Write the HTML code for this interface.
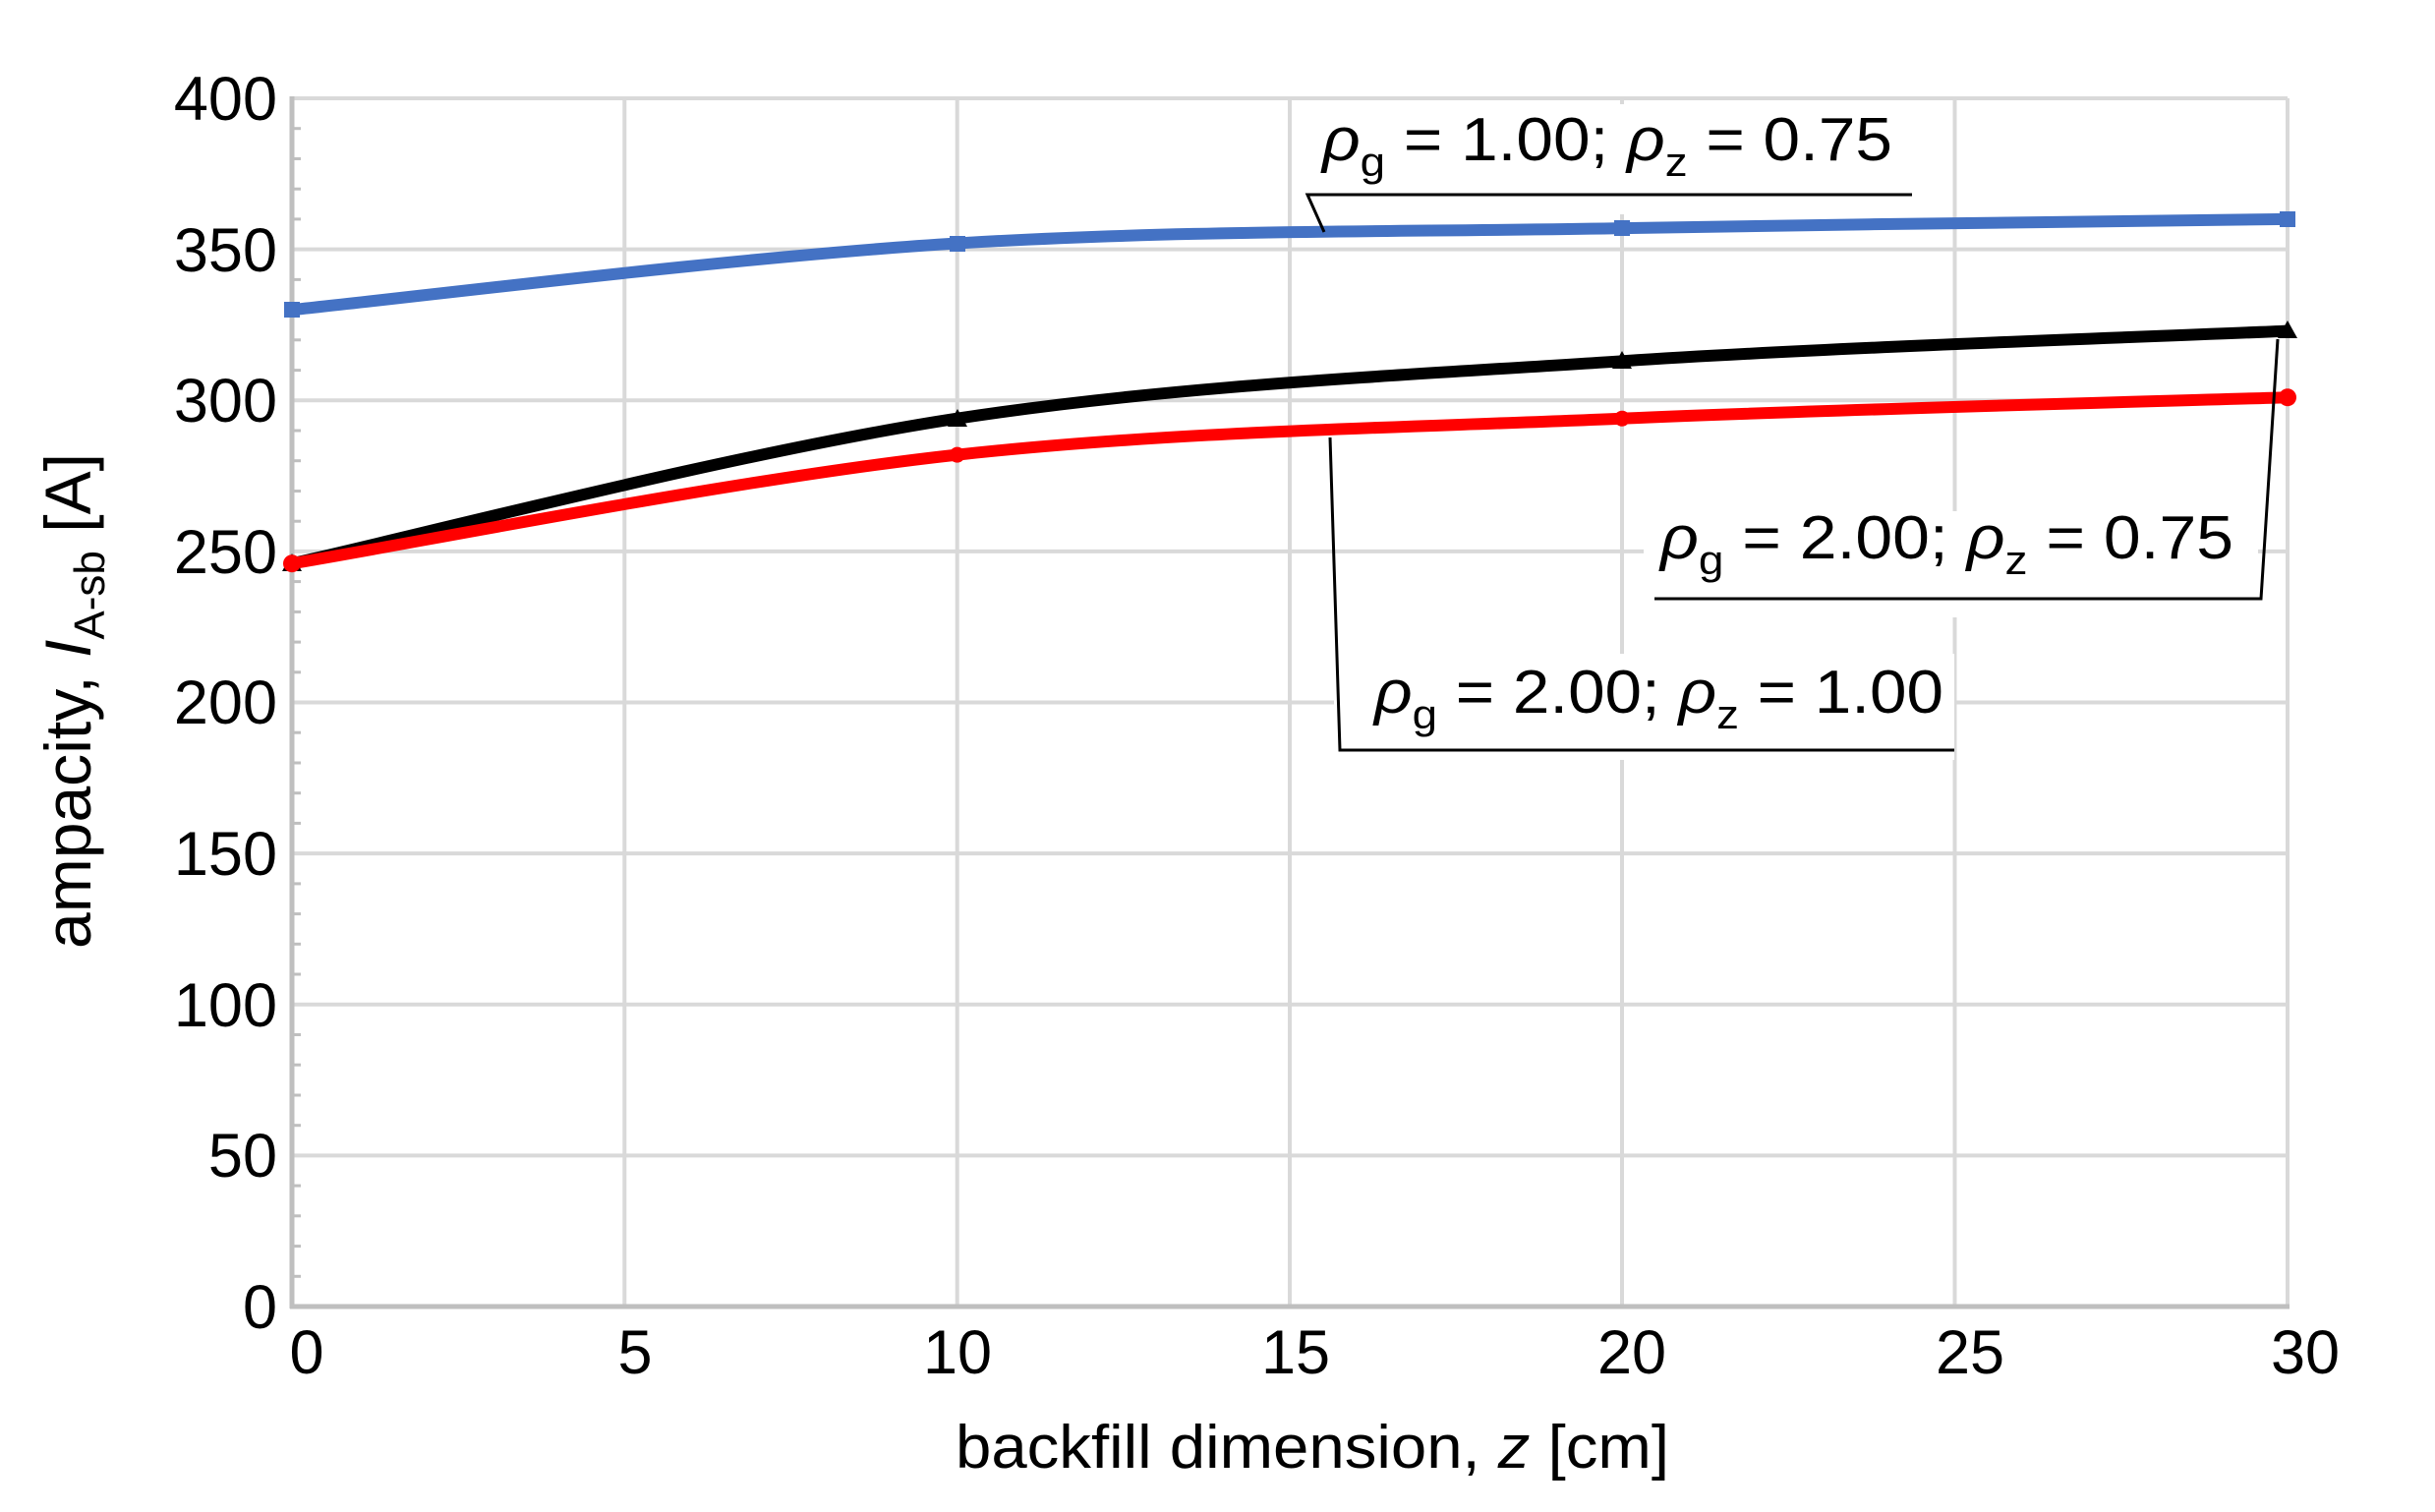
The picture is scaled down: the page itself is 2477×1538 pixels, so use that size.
<!DOCTYPE html>
<html><head><meta charset="utf-8"><style>html,body{margin:0;padding:0;background:#fff}svg{display:block}</style></head>
<body>
<svg width="2477" height="1538" viewBox="0 0 2477 1538" xmlns="http://www.w3.org/2000/svg" font-family="Liberation Sans, Arial, sans-serif">
<rect width="2477" height="1538" fill="#fff"/>
<g stroke="#d9d9d9" stroke-width="4">
<line x1="297" y1="100" x2="2327" y2="100"/><line x1="297" y1="253.6" x2="2327" y2="253.6"/><line x1="297" y1="407.3" x2="2327" y2="407.3"/><line x1="297" y1="560.9" x2="2327" y2="560.9"/><line x1="297" y1="714.5" x2="2327" y2="714.5"/><line x1="297" y1="868.1" x2="2327" y2="868.1"/><line x1="297" y1="1021.8" x2="2327" y2="1021.8"/><line x1="297" y1="1175.4" x2="2327" y2="1175.4"/>
<line x1="635.3" y1="100" x2="635.3" y2="1329"/><line x1="973.7" y1="100" x2="973.7" y2="1329"/><line x1="1312" y1="100" x2="1312" y2="1329"/><line x1="1650" y1="100" x2="1650" y2="1329"/><line x1="1988.5" y1="100" x2="1988.5" y2="1329"/><line x1="2327" y1="100" x2="2327" y2="1329"/>
</g>
<g stroke="#bfbfbf" stroke-width="5">
<line x1="297" y1="98" x2="297" y2="1331"/><line x1="295" y1="1329" x2="2329" y2="1329"/>
</g>
<g stroke="#bfbfbf" stroke-width="3">
<line x1="297" x2="306" y1="130.7" y2="130.7"/><line x1="297" x2="306" y1="161.5" y2="161.5"/><line x1="297" x2="306" y1="192.2" y2="192.2"/><line x1="297" x2="306" y1="222.9" y2="222.9"/>
<line x1="297" x2="306" y1="284.4" y2="284.4"/><line x1="297" x2="306" y1="315.1" y2="315.1"/><line x1="297" x2="306" y1="345.8" y2="345.8"/><line x1="297" x2="306" y1="376.6" y2="376.6"/>
<line x1="297" x2="306" y1="438" y2="438"/><line x1="297" x2="306" y1="468.7" y2="468.7"/><line x1="297" x2="306" y1="499.5" y2="499.5"/><line x1="297" x2="306" y1="530.2" y2="530.2"/>
<line x1="297" x2="306" y1="591.6" y2="591.6"/><line x1="297" x2="306" y1="622.4" y2="622.4"/><line x1="297" x2="306" y1="653.1" y2="653.1"/><line x1="297" x2="306" y1="683.8" y2="683.8"/>
<line x1="297" x2="306" y1="745.2" y2="745.2"/><line x1="297" x2="306" y1="776" y2="776"/><line x1="297" x2="306" y1="806.7" y2="806.7"/><line x1="297" x2="306" y1="837.4" y2="837.4"/>
<line x1="297" x2="306" y1="898.9" y2="898.9"/><line x1="297" x2="306" y1="929.6" y2="929.6"/><line x1="297" x2="306" y1="960.3" y2="960.3"/><line x1="297" x2="306" y1="991" y2="991"/>
<line x1="297" x2="306" y1="1052.5" y2="1052.5"/><line x1="297" x2="306" y1="1083.2" y2="1083.2"/><line x1="297" x2="306" y1="1114" y2="1114"/><line x1="297" x2="306" y1="1144.7" y2="1144.7"/>
<line x1="297" x2="306" y1="1206.1" y2="1206.1"/><line x1="297" x2="306" y1="1236.8" y2="1236.8"/><line x1="297" x2="306" y1="1267.6" y2="1267.6"/><line x1="297" x2="306" y1="1298.3" y2="1298.3"/>
</g>
<rect x="1330" y="106" width="615" height="112" fill="#fff"/>
<rect x="1672" y="520" width="625" height="108" fill="#fff"/>
<rect x="1357" y="665" width="631" height="108" fill="#fff"/>
<g fill="none" stroke-width="12" stroke-linejoin="round">
<path stroke="#4472c4" d="M297,315.1 C409.8,303.8 748.2,261.3 973.7,247.5 C1199.2,233.7 1424.5,236.2 1650,232.1 C1875.5,228 2214.2,224.4 2327,222.9"/>
<path stroke="#000" d="M297,573.2 C409.8,548.6 748.2,460 973.7,425.7 C1199.2,391.4 1424.5,382.2 1650,367.3 C1875.5,352.5 2214.2,341.7 2327,336.6"/>
<path stroke="#ff0000" d="M297,573.2 C409.8,554.8 748.2,487.2 973.7,462.6 C1199.2,438 1424.5,435.4 1650,425.7 C1875.5,416 2214.2,407.8 2327,404.2"/>
</g>
<g fill="#4472c4"><rect x="289" y="307" width="16" height="16"/><rect x="966" y="240" width="16" height="16"/><rect x="1642" y="224" width="16" height="16"/><rect x="2319" y="215" width="16" height="16"/></g>
<g fill="#000"><polygon points="297,563 307,581 287,581"/><polygon points="974,416 984,434 964,434"/><polygon points="1650,357 1660,375 1640,375"/><polygon points="2327,326 2337,344 2317,344"/></g>
<g fill="#ff0000"><circle cx="297" cy="573.2" r="9"/><circle cx="973.7" cy="462.6" r="8"/><circle cx="1650" cy="425.7" r="8"/><circle cx="2327" cy="404.2" r="9"/></g>
<g stroke="#000" stroke-width="3" fill="none">
<polyline points="1347,236 1330,198 1945,198"/>
<polyline points="2317,345 2300,609 1683,609"/>
<polyline points="1353,445 1363,763 1988,763"/>
</g>
<g font-size="62" fill="#000">
<text x="1345" y="163" textLength="580" lengthAdjust="spacingAndGlyphs"><tspan font-style="italic">ρ</tspan><tspan font-size="42" dy="16">g</tspan><tspan dy="-16"> = 1.00;  </tspan><tspan font-style="italic">ρ</tspan><tspan font-size="42" dy="16">z</tspan><tspan dy="-16"> = 0.75</tspan></text>
<text x="1689" y="568" textLength="583" lengthAdjust="spacingAndGlyphs"><tspan font-style="italic">ρ</tspan><tspan font-size="42" dy="16">g</tspan><tspan dy="-16"> = 2.00;  </tspan><tspan font-style="italic">ρ</tspan><tspan font-size="42" dy="16">z</tspan><tspan dy="-16"> = 0.75</tspan></text>
<text x="1398" y="725" textLength="579" lengthAdjust="spacingAndGlyphs"><tspan font-style="italic">ρ</tspan><tspan font-size="42" dy="16">g</tspan><tspan dy="-16"> = 2.00;  </tspan><tspan font-style="italic">ρ</tspan><tspan font-size="42" dy="16">z</tspan><tspan dy="-16"> = 1.00</tspan></text>
</g>
<g font-size="63" fill="#000" text-anchor="end">
<text x="282" y="122">400</text><text x="282" y="276">350</text><text x="282" y="429">300</text><text x="282" y="583">250</text><text x="282" y="736">200</text><text x="282" y="890">150</text><text x="282" y="1044">100</text><text x="282" y="1197">50</text><text x="282" y="1351">0</text>
</g>
<g font-size="63" fill="#000" text-anchor="middle">
<text x="312" y="1397">0</text><text x="646" y="1397">5</text><text x="974" y="1397">10</text><text x="1318" y="1397">15</text><text x="1660" y="1397">20</text><text x="2004" y="1397">25</text><text x="2345" y="1397">30</text>
</g>
<text x="972" y="1493" font-size="62" textLength="726" lengthAdjust="spacingAndGlyphs">backfill dimension, <tspan font-style="italic">z</tspan> [cm]</text>
<text transform="translate(92,965) rotate(-90)" font-size="66" textLength="504" lengthAdjust="spacingAndGlyphs">ampacity, <tspan font-style="italic">I</tspan><tspan font-size="44" dy="14">A-sb</tspan><tspan dy="-14"> [A]</tspan></text>
</svg>
</body></html>
